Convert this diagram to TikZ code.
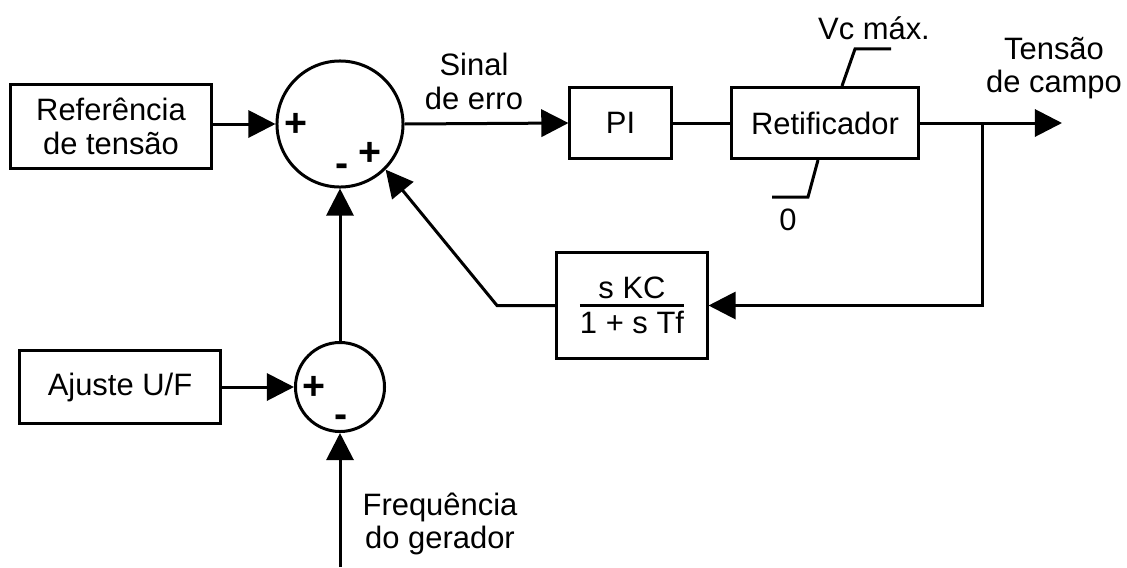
\documentclass[tikz,border=0pt]{standalone}
\usepackage{fontspec}
\setmainfont{Liberation Sans}
\usetikzlibrary{arrows.meta}

\begin{document}
\begin{tikzpicture}[x=0.025cm, y=-0.025cm,
  line width=0.075cm,
  font=\fontsize{22}{24}\selectfont,
  block/.style={draw, rectangle, inner sep=0pt, align=center},
  sumpt/.style={draw, circle, inner sep=0pt},
  sign/.style={anchor=base, inner sep=0pt, font=\fontsize{28}{30}\selectfont\bfseries},
  lbl/.style={inner sep=0pt, align=center},
  arr/.style={-{Triangle[length=0.68cm,width=0.68cm]}},
]
\useasboundingbox (0,0) rectangle (1127,567);

% blocks and summing junctions
\node[block, minimum width=5.025cm, minimum height=2.075cm] (ref) at (111,126.5) {Referência\\de tensão};
\node[sumpt, minimum size=3.15cm] (sum1) at (340,124) {};
\node[block, minimum width=2.525cm, minimum height=1.775cm] (pi) at (620.5,123) {PI};
\node[block, minimum width=4.65cm, minimum height=1.775cm] (ret) at (825,123) {Retificador};
\node[draw, rectangle, inner sep=0pt, minimum width=3.75cm, minimum height=2.65cm] (fb) at (632,305.5)
  {\setbox0=\hbox{1 + s Tf}\vbox{\hbox to\wd0{\hfil s KC\hfil}\kern3.5pt\hrule height2.1pt\kern3pt\box0}};
\node[block, minimum width=5cm, minimum height=1.8cm] (aj) at (120,387) {Ajuste U/F};
\node[sumpt, minimum size=2.225cm] (sum2) at (340,387) {};

% signal labels
\node[lbl] (sinal) at (474,81.5) {Sinal\\de erro};
\node[lbl] (tensao) at (1054,68) {Tensão\\de campo};
\node[lbl] (freq) at (440,524) {Frequência\\do gerador};
\node[anchor=base, inner sep=0pt] (vcmax) at (874,39) {Vc máx.};
\node[anchor=base, inner sep=0pt] (zero) at (788,230) {0};

% junction signs
\node[sign] (p1) at (296,136) {+};
\node[sign] (m1) at (342,176) {-};
\node[sign] (p2) at (370,165) {+};
\node[sign] (p3) at (314,399) {+};
\node[sign] (m2) at (341,427) {-};

% limiter marks on the rectifier
\draw ([xshift=0.425cm]ret.north) -- ++(13,-37) -- ++(36,0);
\draw ([xshift=-0.175cm]ret.south) -- ++(-10,37) -- ++(-36,0);

% connectors
\coordinate (br) at (982,123);
\coordinate (out) at (1062,123);
\coordinate (bend) at (497,305.5);
\coordinate (fin) at (340,567);
\draw[arr] (ref.east |- sum1.west) -- (sum1.west);
\draw[arr] (sum1.east) -- (pi.west);
\draw (pi.east) -- (ret.west);
\draw[arr] (ret.east) -- (out);
\draw[arr] (br) |- (fb.east);
\draw[arr] (fb.west) -- (bend) -- (sum1.-45);
\draw[arr] (sum2.north) -- (sum1.south);
\draw[arr] (aj.east) -- (sum2.west);
\draw[arr] (fin) -- (sum2.south);
\end{tikzpicture}
\end{document}
